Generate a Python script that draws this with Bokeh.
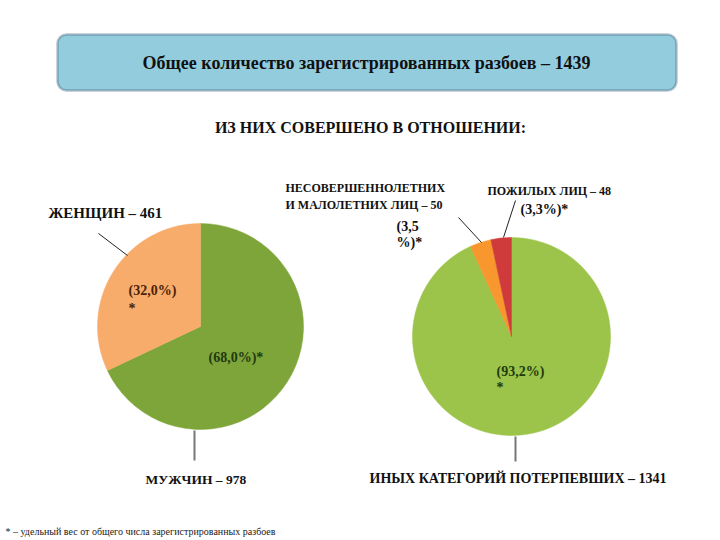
from bokeh.plotting import figure
from bokeh.models import Range1d, BoxAnnotation
from bokeh.core.properties import value
from bokeh.embed import file_html
from bokeh.resources import INLINE
import numpy as np

# ---- data ----
title_text = "Общее количество зарегистрированных разбоев – 1439"
subtitle_text = "ИЗ НИХ СОВЕРШЕНО В ОТНОШЕНИИ:"
footnote_text = "* – удельный вес от общего числа зарегистрированных разбоев"

left_categories = ["МУЖЧИН", "ЖЕНЩИН"]
left_values = [978, 461]
left_pcts = ["(68,0%)*", "(32,0%)\n*"]
left_colors = ["#7EA53A", "#F8AC6C"]

right_categories = ["ИНЫХ КАТЕГОРИЙ ПОТЕРПЕВШИХ", "НЕСОВЕРШЕННОЛЕТНИХ\nИ МАЛОЛЕТНИХ ЛИЦ", "ПОЖИЛЫХ ЛИЦ"]
right_values = [1341, 50, 48]
right_pcts = ["(93,2%)\n*", "(3,5\n%)*", "(3,3%)*"]
right_colors = ["#9CC44A", "#F7972D", "#CF3B3B"]

W, H = 720, 540
SERIF = value("'Liberation Serif', 'Times New Roman', serif")

def Y(py):
    return H - py

p = figure(width=W, height=H, x_range=Range1d(0, W), y_range=Range1d(0, H),
           output_backend="svg", toolbar_location=None, min_border=0)
p.axis.visible = False
p.grid.visible = False
p.outline_line_color = None
p.background_fill_color = "white"
p.border_fill_color = "white"

# title box
p.add_layout(BoxAnnotation(left=57, right=676, top=Y(34), bottom=Y(90),
                           fill_color="#93CDDD", fill_alpha=1.0, level="underlay",
                           line_color="#1F3A60", line_width=2.5, border_radius=9))
p.text(x=[366], y=[Y(62)], text=[title_text], text_font=SERIF, text_font_style="bold",
       text_font_size="18px", text_align="center", text_baseline="middle", text_color="#111111")
p.text(x=[370], y=[Y(127)], text=[subtitle_text], text_font=SERIF, text_font_style="bold",
       text_font_size="16px", text_align="center", text_baseline="middle", text_color="#111111")

def pie(cx, cy, r, vals, colors):
    v = np.array(vals, dtype=float)
    frac = v / v.sum()
    cum = np.concatenate([[0], np.cumsum(frac)])
    # clockwise from 12 o'clock
    start = np.pi / 2 - cum[1:] * 2 * np.pi
    end = np.pi / 2 - cum[:-1] * 2 * np.pi
    p.wedge(x=[cx] * len(v), y=[cy] * len(v), radius=r, start_angle=start, end_angle=end,
            direction="anticlock", fill_color=colors, line_color=colors, line_width=0.5)

pie(200, Y(326), 103, left_values, left_colors)
pie(511, Y(336), 99, right_values, right_colors)

# leader lines
p.segment(x0=[98, 458, 515], y0=[Y(233), Y(217), Y(200)],
          x1=[127, 481, 503], y1=[Y(255), Y(242), Y(237)], line_color="#222222", line_width=1)
p.segment(x0=[194, 515], y0=[Y(430), Y(436)], x1=[194, 515], y1=[Y(460), Y(461)],
          line_color="#777777", line_width=2)

lab = dict(text_font=SERIF, text_font_style="bold", text_baseline="middle", text_color="#111111")

# left labels
p.text(x=[48], y=[Y(212)], text=[f"{left_categories[1]} – {left_values[1]}"],
       text_font_size="15px", text_align="left", **lab)
p.text(x=[145], y=[Y(479)], text=[f"{left_categories[0]} – {left_values[0]}"],
       text_font_size="13.5px", text_align="left", **lab)
p.text(x=[128], y=[Y(299)], text=[left_pcts[1]], text_font_size="14px", text_align="left",
       text_line_height=1.2, text_font=SERIF, text_font_style="bold", text_baseline="middle",
       text_color="#4A2208")
p.text(x=[208], y=[Y(357)], text=[left_pcts[0]], text_font_size="14px", text_align="left",
       text_font=SERIF, text_font_style="bold", text_baseline="middle", text_color="#1E3A10")

# right labels
p.text(x=[285], y=[Y(196)], text=[f"{right_categories[1]} – {right_values[1]}"],
       text_font_size="12px", text_align="left", text_line_height=1.25, **lab)
p.text(x=[487], y=[Y(190)], text=[f"{right_categories[2]} – {right_values[2]}"],
       text_font_size="12px", text_align="left", **lab)
p.text(x=[520], y=[Y(209)], text=[right_pcts[2]], text_font_size="14px", text_align="left", **lab)
p.text(x=[396], y=[Y(234)], text=[right_pcts[1]], text_font_size="14px", text_align="left",
       text_line_height=1.1, **lab)
p.text(x=[496], y=[Y(379)], text=[right_pcts[0]], text_font_size="14px", text_align="left",
       text_line_height=1.1, text_font=SERIF, text_font_style="bold", text_baseline="middle",
       text_color="#1E3A10")
p.text(x=[369], y=[Y(478)], text=[f"{right_categories[0]} – {right_values[0]}"],
       text_font_size="14px", text_align="left", **lab)

# footnote
p.text(x=[5], y=[Y(531)], text=[footnote_text], text_font=SERIF, text_font_size="10px",
       text_align="left", text_baseline="middle", text_color="#222222")

open("out.html", "w").write(file_html(p, INLINE))
